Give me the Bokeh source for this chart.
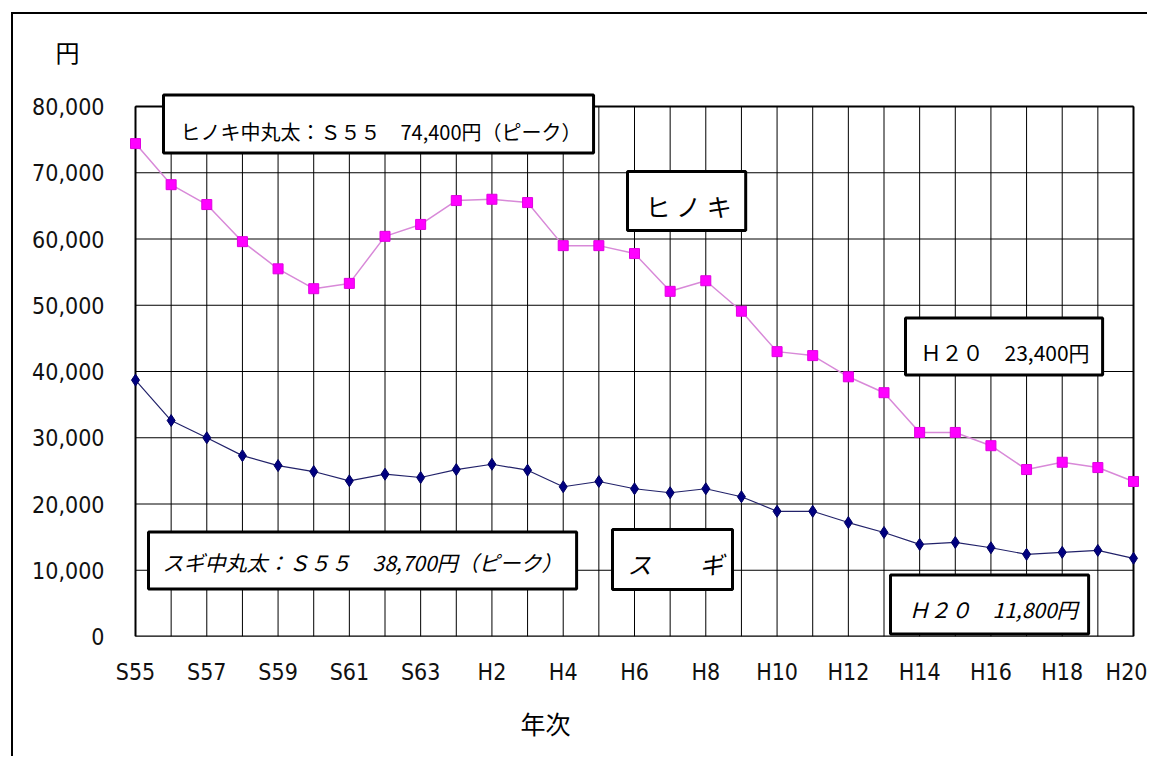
from bokeh.plotting import figure
from bokeh.models import Label, FixedTicker, Range1d, ColumnDataSource, Title
from bokeh.embed import file_html
from bokeh.resources import INLINE

# ---------------- data ----------------
years = ["S55", "S56", "S57", "S58", "S59", "S60", "S61", "S62", "S63",
         "H1", "H2", "H3", "H4", "H5", "H6", "H7", "H8", "H9", "H10",
         "H11", "H12", "H13", "H14", "H15", "H16", "H17", "H18", "H19", "H20"]
hinoki = [74400, 68200, 65200, 59600, 55500, 52500, 53300, 60400, 62200,
          65800, 66000, 65500, 59000, 59000, 57800, 52100, 53700, 49100, 43000,
          42400, 39200, 36800, 30800, 30800, 28800, 25200, 26300, 25500, 23400]
sugi = [38700, 32600, 30000, 27300, 25800, 24900, 23500, 24500, 24000,
        25200, 26000, 25100, 22600, 23400, 22300, 21700, 22300, 21100, 18900,
        18900, 17200, 15700, 13900, 14200, 13400, 12400, 12700, 13000, 11800]
y_ticks = [0, 10000, 20000, 30000, 40000, 50000, 60000, 70000, 80000]
y_tick_labels = ["0", "10,000", "20,000", "30,000", "40,000",
                 "50,000", "60,000", "70,000", "80,000"]

xs = list(range(len(years)))
n_last = xs[-1]

# ---------------- geometry (page pixels) ----------------
BOX_L, BOX_R, BOX_T, BOX_B = 135, 1133, 106, 636   # the data box
FRAME_TOP = 80                                     # frame extends a bit above the box
UNIT = (BOX_R - BOX_L) / n_last
PAD = 7 / UNIT
W, H = 1147, 756


def px2x(px):
    return (px - BOX_L) / UNIT


def py2y(py):
    return (BOX_B - py) * y_ticks[-1] / (BOX_B - BOX_T)


frame_left = BOX_L - 7
frame_w = (BOX_R + 7) - frame_left
p = figure(width=W, height=H, output_backend="svg", toolbar_location=None,
           x_range=Range1d(-PAD, n_last + PAD), y_range=Range1d(y_ticks[0], py2y(FRAME_TOP)),
           min_border_left=frame_left, min_border_right=W - frame_left - frame_w,
           min_border_top=FRAME_TOP, min_border_bottom=H - BOX_B)
p.outline_line_color = None
p.background_fill_color = "white"
p.border_fill_color = None
p.xgrid.visible = False
p.ygrid.visible = False
# outer frame of the picture (left and top edges)
p.styles = {
    "background-color": "white",
    "background-image": "linear-gradient(#000, #000), linear-gradient(#000, #000)",
    "background-size": "2px 100%, 100% 2px",
    "background-position": "11px 12px, 11px 12px",
    "background-repeat": "no-repeat",
}

# grid lines (inside the data box only)
hsrc = ColumnDataSource(dict(x0=[xs[0]] * len(y_ticks), x1=[n_last] * len(y_ticks),
                             y=y_ticks))
p.segment(x0="x0", x1="x1", y0="y", y1="y", source=hsrc, line_color="black", line_width=1)
vsrc = ColumnDataSource(dict(x=xs, y0=[y_ticks[0]] * len(xs), y1=[y_ticks[-1]] * len(xs)))
p.segment(x0="x", x1="x", y0="y0", y1="y1", source=vsrc, line_color="black", line_width=1)
# box border
p.segment(x0=[xs[0], n_last, xs[0], xs[0]], x1=[xs[0], n_last, n_last, n_last],
          y0=[y_ticks[0], y_ticks[0], y_ticks[0], y_ticks[-1]],
          y1=[y_ticks[-1], y_ticks[-1], y_ticks[0], y_ticks[-1]],
          line_color="black", line_width=2)

# series
p.line(xs, hinoki, line_color="#D889D8", line_width=1.5)
p.scatter(xs, hinoki, marker="square", size=10, fill_color="#FF00FF", line_color="#E000E0")
p.line(xs, sugi, line_color="#22226A", line_width=1.2)
p.scatter(xs, sugi, marker="diamond", size=12, fill_color="#000080", line_color="#000060")

# axes
TICK_FONT = "Liberation Sans Narrow, DejaVu Sans Condensed, Roboto Condensed, Noto Sans, sans-serif"
for ax in (p.xaxis[0], p.yaxis[0]):
    ax.axis_line_color = None
    ax.major_tick_line_color = None
    ax.minor_tick_line_color = None
    ax.major_tick_in = 0
    ax.major_tick_out = 0
    ax.minor_tick_in = 0
    ax.minor_tick_out = 0
    ax.major_label_text_font = TICK_FONT
    ax.major_label_text_font_size = "23px"
    ax.major_label_text_color = "#111111"

p.xaxis.ticker = FixedTicker(ticks=xs[::2])
p.xaxis.major_label_overrides = {i: years[i] for i in xs[::2]}
p.xaxis.major_label_standoff = 22
p.yaxis.ticker = FixedTicker(ticks=y_ticks)
p.yaxis.major_label_overrides = {t: s for t, s in zip(y_ticks, y_tick_labels)}
p.yaxis.major_label_standoff = 24

JP = "Noto Sans CJK JP"

# unit caption (top-left) and axis caption (bottom)
p.title.text = "円"
p.title.align = "left"
p.title.vertical_align = "bottom"
p.title.offset = 55 - frame_left
p.title.text_font = JP
p.title.text_font_size = "24px"
p.title.text_font_style = "normal"
p.title.text_color = "black"
p.title.standoff = 24

p.add_layout(Title(text="年次", align="left", vertical_align="bottom",
                   offset=520 - frame_left, text_font=JP,
                   text_font_size="25px", text_font_style="normal", text_color="black",
                   standoff=30), "below")


def box(text, left, top, bottom, size, pad, italic=False):
    # pad = (left, right, top, bottom); box anchored at its left edge / vertical centre
    p.add_layout(Label(x=px2x(left), y=py2y((top + bottom) / 2), text=text, text_font=JP,
                       text_font_size=size, text_align="left", text_baseline="middle",
                       text_font_style="italic" if italic else "normal",
                       text_color="black", background_fill_color="white",
                       border_line_color="black", border_line_width=3, padding=pad))


box("ヒノキ中丸太：Ｓ５５　74,400円（ピーク）", 163, 95, 152, "20px", (17, 12, 22, 7))
box("ヒ ノ キ", 627, 172, 229, "25px", (18, 14, 16, 7))
box("Ｈ２０　23,400円", 905, 318, 374, "21px", (15, 13, 19, 8))
box("スギ中丸太：Ｓ５５　38,700円（ピーク）", 148, 532, 588, "21px", (14, 14, 15, 12), italic=True)
box("ス　　ギ", 612, 530, 588, "24px", (15, 9, 16, 9), italic=True)
box("Ｈ２０　11,800円", 890, 575, 633, "21px", (18, 11, 19, 10), italic=True)

open("out.html", "w").write(file_html(p, INLINE))
